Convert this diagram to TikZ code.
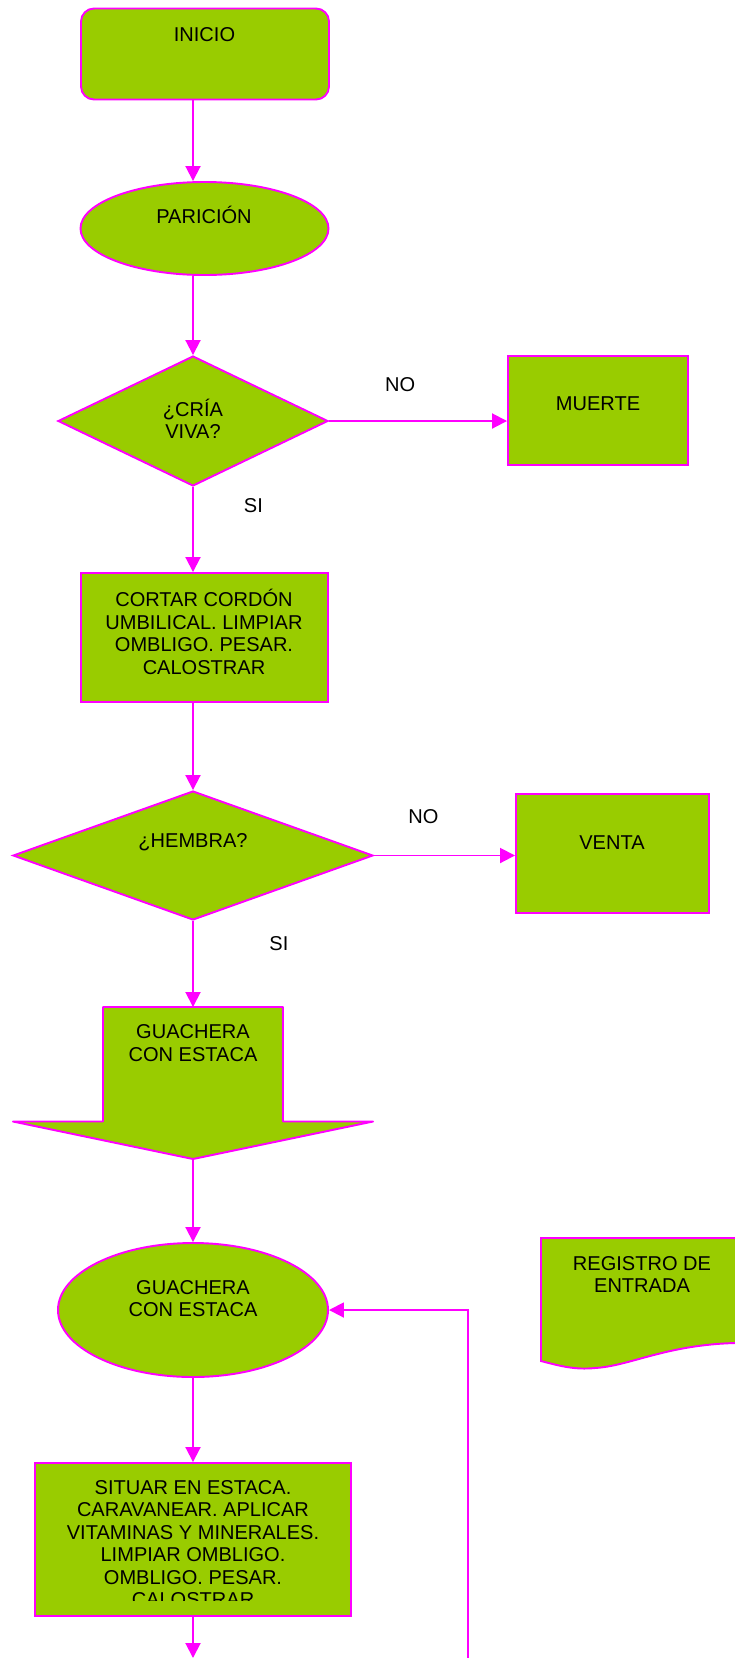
\documentclass[tikz,border=0pt]{standalone}
\usepackage{fontspec}
\setmainfont{Liberation Sans}
\usepackage{xcolor}
\usepackage{tikz}
\usetikzlibrary{shapes,arrows.meta,positioning}

\definecolor{verde}{HTML}{99CC00}
\definecolor{rosa}{HTML}{FF00FF}

\begin{document}
\begin{tikzpicture}[
    startblock/.style={rectangle, rounded corners=0.26cm, draw=rosa, line width=1.1pt, fill=verde, minimum width=4.96cm, minimum height=1.82cm},
    ellblock/.style={ellipse, draw=rosa, line width=1.1pt, fill=verde, inner sep=0pt},
    decblock/.style={diamond, draw=rosa, line width=1.1pt, fill=verde, inner sep=0pt},
    procblock/.style={rectangle, draw=rosa, line width=1.1pt, fill=verde, inner sep=0pt},
    txt/.style={align=center, inner sep=0pt, font=\fontsize{11.4}{12.8}\selectfont},
    harrow/.style={-{Triangle[length=0.30cm, width=0.30cm]}, draw=rosa, line width=1.1pt}
  ]
    \useasboundingbox (0,0) rectangle (14.70,-33.16);

    % Inicio y paricion
    \node[startblock] (inicio) at (4.10, -1.08) {};
    \node[txt] (inicio-t) at (4.09, -0.70) {INICIO};
    \node[ellblock, minimum width=4.96cm, minimum height=1.86cm] (paricion) at (4.09, -4.57) {};
    \node[txt] (paricion-t) at (4.08, -4.30) {PARICIÓN};

    % Primera decision
    \node[decblock, minimum width=5.40cm, minimum height=2.60cm] (cria) at (3.86, -8.42) {};
    \node[txt] (cria-t) at (3.86, -8.38) {¿CRÍA\\VIVA?};
    \node[procblock, minimum width=3.60cm, minimum height=2.18cm] (muerte) at (11.96, -8.21) {};
    \node[txt] (muerte-t) at (11.96, -8.07) {MUERTE};
    \node[procblock, minimum width=4.94cm, minimum height=2.58cm] (cortar) at (4.09, -12.75) {};
    \node[txt] (cortar-t) at (4.08, -12.64) {CORTAR CORDÓN\\UMBILICAL. LIMPIAR\\OMBLIGO. PESAR.\\CALOSTRAR};

    % Segunda decision
    \node[decblock, minimum width=7.20cm, minimum height=2.58cm] (hembra) at (3.86, -17.11) {};
    \node[txt] (hembra-t) at (3.86, -16.85) {¿HEMBRA?};
    \node[procblock, minimum width=3.86cm, minimum height=2.38cm] (venta) at (12.25, -17.07) {};
    \node[txt] (venta-t) at (12.24, -16.85) {VENTA};

    % Flecha de bloque
    \coordinate (gtop) at (3.86, -20.14);
    \coordinate (gtip) at (3.86, -23.18);
    \draw[draw=rosa, line width=1.1pt, fill=verde, line join=round] (2.06, -20.14) -- (5.66, -20.14) -- (5.66, -22.43) -- (7.46, -22.43) -- (gtip) -- (0.26, -22.43) -- (2.06, -22.43) -- cycle;
    \node[txt] (flecha-t) at (3.86, -20.86) {GUACHERA\\CON ESTACA};

    % Guachera y registro
    \node[ellblock, minimum width=5.40cm, minimum height=2.68cm] (estaca) at (3.86, -26.20) {};
    \node[txt] (estaca-t) at (3.86, -25.97) {GUACHERA\\CON ESTACA};
    \fill[verde] (14.70, -24.76) -- (10.82, -24.76) -- (10.82, -27.22) .. controls (11.20, -27.32) and (11.50, -27.40) .. (11.90, -27.36) .. controls (12.60, -27.32) and (13.30, -26.90) .. (14.70, -26.86) -- cycle;
    \draw[rosa, line width=1.1pt] (14.70, -24.76) -- (10.82, -24.76) -- (10.82, -27.22) .. controls (11.20, -27.32) and (11.50, -27.40) .. (11.90, -27.36) .. controls (12.60, -27.32) and (13.30, -26.90) .. (14.70, -26.86);
    \node[txt] (registro) at (12.84, -25.49) {REGISTRO DE\\ENTRADA};

    % Situar en estaca
    \node[procblock, minimum width=6.32cm, minimum height=3.06cm] (situar) at (3.86, -30.79) {};
    \begin{scope}
      \clip (0.70, -32.00) rectangle (7.02, -29.26);
      \node[txt] (situar-t) at (3.86, -30.87) {SITUAR EN ESTACA.\\CARAVANEAR. APLICAR\\VITAMINAS Y MINERALES.\\LIMPIAR OMBLIGO.\\OMBLIGO. PESAR.\\CALOSTRAR};
    \end{scope}
    \coordinate (fin) at (3.86, -33.16);
    \coordinate (retorno) at (9.36, -33.16);

    % Conectores
    \draw[harrow] (inicio.south -| cria.north) -- (paricion.north -| cria.north);
    \draw[harrow] (paricion.south -| cria.north) -- (cria.north);
    \draw[harrow] (cria.east) -- node[txt, pos=0.4, above=0.57cm] (no1) {NO} (cria.east -| muerte.west);
    \draw[harrow] (cria.south) -- node[txt, pos=0.22, right=1.0cm] (si1) {SI} (cortar.north -| cria.south);
    \draw[harrow] (cortar.south -| hembra.north) -- (hembra.north);
    \draw[harrow] (hembra.east) -- node[txt, pos=0.35, above=0.61cm] (no2) {NO} (hembra.east -| venta.west);
    \draw[harrow] (hembra.south) -- node[txt, pos=0.26, right=1.51cm] (si2) {SI} (gtop);
    \draw[harrow] (gtip) -- (estaca.north);
    \draw[harrow] (estaca.south) -- (situar.north);
    \draw[harrow] (situar.south) -- (fin);
    \draw[harrow] (retorno) |- (estaca.east);
  \end{tikzpicture}
\end{document}
